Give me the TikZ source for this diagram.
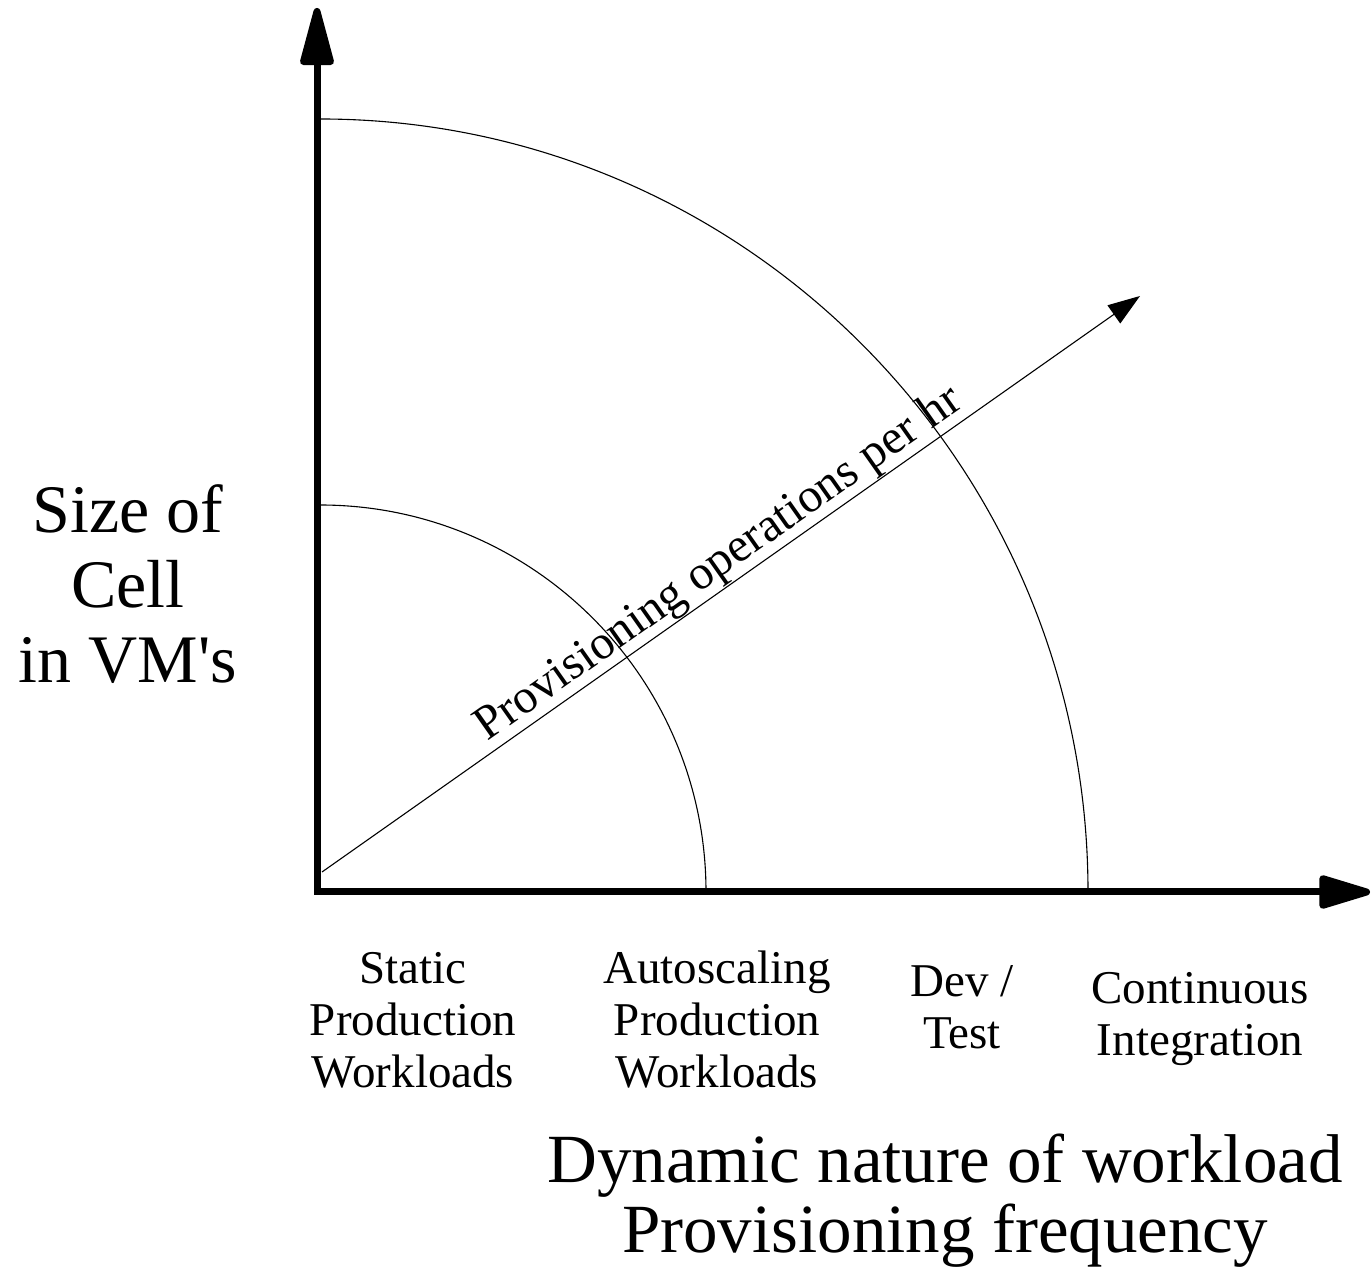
\documentclass[tikz,border=0pt]{standalone}
\usepackage{fontspec}
\setmainfont{Liberation Serif}
\usetikzlibrary{arrows.meta}
\begin{document}
\begin{tikzpicture}[x=1pt,y=1pt,
  axis/.style={line width=7pt, line join=miter},
  thinline/.style={line width=1.1pt},
  lbl/.style={align=center, inner sep=0pt, font=\fontsize{47}{52}\selectfont},
  big/.style={align=center, inner sep=0pt}]
\fill[white] (0,0) rectangle (1372,1274);
\useasboundingbox (0,0) rectangle (1372,1274);

% key points of the chart
\coordinate (origin) at (317,382);
\coordinate (ytop) at (317,1266);
\coordinate (xend) at (1370,382);
\coordinate (center) at (320,382);
\coordinate (diagstart) at (322,402);
\coordinate (diagend) at (1140,978);

% the two heavy axes
\draw[axis, {Triangle[length=68pt,width=34pt,round]}-{Triangle[length=60pt,width=34pt,round]}]
  (ytop) -- (origin) -- (xend);

% quarter arcs marking the workload bands
\draw[thinline] (center) ++(0,773) arc[start angle=90, end angle=0, x radius=768, y radius=773];
\draw[thinline] (center) ++(0,387) arc[start angle=90, end angle=0, x radius=386, y radius=387];

% diagonal arrow with its label
\draw[thinline, -{Triangle[length=32pt,width=22pt]}] (diagstart) -- (diagend);
\node[rotate=35.15, anchor=base, inner sep=0pt, font=\fontsize{48}{52}\selectfont]
  (provops) at (726,699.9) {Provisioning operations per hr};

% axis titles
\node[big, font=\fontsize{68}{75}\selectfont] (ylabel) at (128,690)
  {Size of\\Cell\\in VM\textquotesingle s};
\node[big, font=\fontsize{69}{70}\selectfont] (xlabel) at (945,73)
  {Dynamic nature of workload\\Provisioning frequency};

% workload categories along the horizontal axis
\node[lbl] (static) at (413,254) {Static\\Production\\Workloads};
\node[lbl] (autoscale) at (717,254) {Autoscaling\\Production\\Workloads};
\node[lbl] (devtest) at (962,266.5) {Dev /\\Test};
\node[lbl] (ci) at (1200,254.5) {Continuous\\Integration};
\end{tikzpicture}
\end{document}
